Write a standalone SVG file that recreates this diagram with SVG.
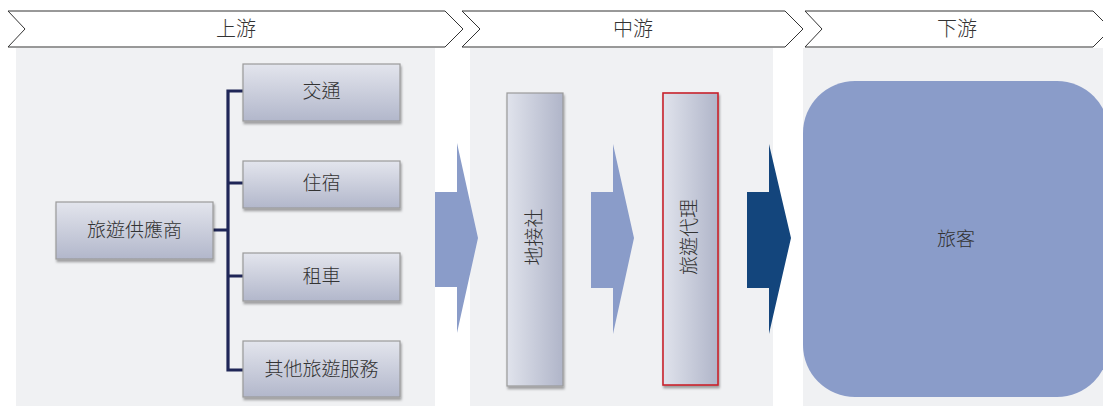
<svg xmlns="http://www.w3.org/2000/svg" width="1103" height="406" viewBox="0 0 1103 406">
<style>
.t{font-family:"Noto Sans CJK TC","Noto Sans CJK SC",sans-serif;font-weight:300;fill:#333;text-anchor:middle;dominant-baseline:central}
.h{font-size:20px}
.b{font-size:19px}
.panel{fill:#f0f1f3}
.chev{fill:#fff;stroke:#333;stroke-width:1}
.box{fill:url(#gv);stroke:#9a9a9a;stroke-width:1.2;filter:url(#sh)}
.vbox{fill:url(#gh);stroke:#9a9a9a;stroke-width:1.2;filter:url(#sh)}
.conn{fill:none;stroke:#1f2657;stroke-width:3.2}
.arr{fill:#8a9cc9}
</style>
<defs>
<linearGradient id="gv" x1="0" y1="0" x2="0" y2="1"><stop offset="0" stop-color="#e3e5ed"/><stop offset="1" stop-color="#b2b7cb"/></linearGradient>
<linearGradient id="gh" x1="0" y1="0" x2="1" y2="0"><stop offset="0" stop-color="#e0e3ec"/><stop offset="1" stop-color="#b0b5c9"/></linearGradient>
<filter id="sh" x="-20%" y="-20%" width="140%" height="140%"><feDropShadow dx="1" dy="2.5" stdDeviation="1.2" flood-color="#000" flood-opacity="0.35"/></filter>
</defs>
<rect class="panel" x="16" y="48" width="419" height="358"/>
<rect class="panel" x="470" y="48" width="303" height="358"/>
<rect class="panel" x="803" y="48" width="300" height="358"/>
<g id="hdr-up"><polygon class="chev" points="8,11 445,11 463,29 445,47 8,47 25,29"/><text class="t h" x="236" y="27">上游</text></g>
<g id="hdr-mid"><polygon class="chev" points="462,11 785,11 803,29 785,47 462,47 480,29"/><text class="t h" x="633" y="27">中游</text></g>
<g id="hdr-down"><polygon class="chev" points="805,11 1093,11 1111,29 1093,47 805,47 822,29"/><text class="t h" x="957" y="27">下游</text></g>
<g id="connectors">
<path class="conn" d="M213,230 H228 M243,91 H228 V370 H243 M228,183 H243 M228,276 H243"/>
<polygon id="arrow1" class="arr" points="435,192 457,192 457,143 478,238 457,333 457,287 435,287"/>
<polygon id="arrow2" class="arr" points="591,192 613,192 613,144 634,238 613,334 613,288 591,288"/>
<polygon id="arrow3" fill="#13457c" points="747,192 769,192 769,144 791,238 769,334 769,288 747,288"/>
</g>
<g id="supplier"><rect class="box" x="56" y="202" width="157" height="57"/><text class="t b" x="134.5" y="228.5">旅遊供應商</text></g>
<g id="transport"><rect class="box" x="243" y="64" width="157" height="57"/><text class="t b" x="321.5" y="89.5">交通</text></g>
<g id="lodging"><rect class="box" x="243" y="161" width="157" height="47"/><text class="t b" x="321.5" y="181.5">住宿</text></g>
<g id="carrental"><rect class="box" x="243" y="253" width="157" height="48"/><text class="t b" x="321.5" y="274.5">租車</text></g>
<g id="other"><rect class="box" x="243" y="341" width="157" height="56"/><text class="t b" x="321.5" y="367.5">其他旅遊服務</text></g>
<g id="local"><rect class="vbox" x="507" y="93" width="56" height="293"/><text class="t b" transform="translate(532.5,237) rotate(-90)">地接社</text></g>
<g id="agent"><rect class="vbox" x="663" y="93" width="55" height="292" style="stroke:#c8232c;stroke-width:1.6"/><text class="t b" transform="translate(687.5,237) rotate(-90)">旅遊代理</text></g>
<g id="traveler"><rect x="803" y="81" width="306" height="316" rx="52" fill="#8a9cc9"/><text class="t b" x="956" y="237">旅客</text></g>
</svg>
